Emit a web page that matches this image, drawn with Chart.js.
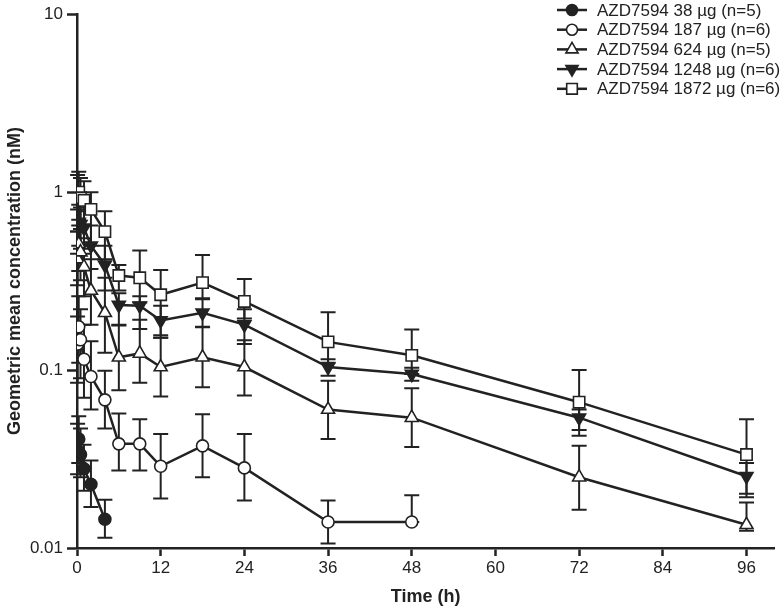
<!DOCTYPE html>
<html>
<head>
<meta charset="utf-8">
<script src="https://cdn.jsdelivr.net/npm/chart.js@4/dist/chart.umd.min.js"></script>
<style>
  html, body { margin: 0; padding: 0; background: #fff; overflow: hidden; }
  #wrap { width: 784px; height: 611px; position: relative; overflow: hidden; }
  canvas { display: block; }
</style>
</head>
<body>
<div id="wrap"><canvas id="grafico"></canvas></div>
<script>
// tempos de coleta (h)
var times = [0.083, 0.25, 0.5, 1, 2, 4, 6, 9, 12, 18, 24, 36, 48, 72, 96];
var xTicks = [0, 12, 24, 36, 48, 60, 72, 84, 96];
var yTicks = [0.01, 0.1, 1, 10];

var labels = [
    "AZD7594 38 µg (n=5)",
    "AZD7594 187 µg (n=6)",
    "AZD7594 624 µg (n=5)",
    "AZD7594 1248 µg (n=6)",
    "AZD7594 1872 µg (n=6)"
];

// 38 µg
var mean38 = [0.0353, 0.041, 0.0335, 0.0279, 0.0228, 0.0145];
var lo38   = [0.026, 0.030, 0.025, 0.021, 0.017, 0.0114];
var hi38   = [0.050, 0.055, 0.047, 0.038, 0.031, 0.0187];

// 187 µg
var mean187 = [0.14, 0.175, 0.148, 0.115, 0.092, 0.068, 0.0385, 0.0385, 0.0288, 0.0375, 0.0282, 0.014, 0.014];
var lo187   = [0.085, 0.11, 0.09, 0.07, 0.06, 0.047, 0.0273, 0.0273, 0.019, 0.025, 0.0185, 0.0106, 0.014];
var hi187   = [0.20, 0.26, 0.22, 0.18, 0.145, 0.099, 0.057, 0.053, 0.0437, 0.0565, 0.0437, 0.0185, 0.0198];

// 624 µg
var mean624 = [0.42, 0.51, 0.46, 0.38, 0.28, 0.21, 0.118, 0.124, 0.104, 0.118, 0.104, 0.060, 0.054, 0.025, 0.0135];
var lo624   = [0.30, 0.36, 0.32, 0.26, 0.18, 0.125, 0.077, 0.085, 0.071, 0.080, 0.072, 0.041, 0.037, 0.0164, 0.0125];
var hi624   = [0.60, 0.70, 0.62, 0.52, 0.42, 0.33, 0.178, 0.192, 0.152, 0.175, 0.147, 0.087, 0.079, 0.0376, 0.018];

// 1248 µg
var mean1248 = [0.62, 0.68, 0.66, 0.63, 0.50, 0.39, 0.232, 0.23, 0.19, 0.21, 0.18, 0.104, 0.095, 0.054, 0.0253];
var lo1248   = [0.45, 0.50, 0.48, 0.45, 0.37, 0.28, 0.18, 0.17, 0.152, 0.174, 0.14, 0.093, 0.087, 0.0428, 0.0193];
var hi1248   = [0.80, 0.85, 0.82, 0.78, 0.65, 0.50, 0.27, 0.26, 0.23, 0.25, 0.22, 0.115, 0.103, 0.060, 0.030];

// 1872 µg
var mean1872 = [0.95, 1.0, 0.93, 0.90, 0.80, 0.60, 0.34, 0.33, 0.265, 0.31, 0.243, 0.144, 0.121, 0.066, 0.0335];
var lo1872   = [0.60, 0.65, 0.62, 0.55, 0.50, 0.42, 0.28, 0.24, 0.157, 0.253, 0.195, 0.11, 0.095, 0.046, 0.0202];
var hi1872   = [1.25, 1.30, 1.20, 1.15, 1.00, 0.78, 0.39, 0.47, 0.365, 0.443, 0.325, 0.211, 0.169, 0.10, 0.053];

var INK = "#222";
var FONTE = "'Liberation Sans', Arial, sans-serif";

function pontos(media, lo, hi) {
    var p = [];
    for (var i = 0; i < media.length; i++) {
        p.push({ x: times[i], y: media[i], lo: lo[i], hi: hi[i] });
    }
    return p;
}

function serie(idx, media, lo, hi, estilo, fundo, raio, rot) {
    return {
        label: labels[idx],
        data: pontos(media, lo, hi),
        showLine: true,
        borderColor: INK,
        borderWidth: 2.5,
        pointStyle: estilo,
        pointRotation: rot || 0,
        pointRadius: raio,
        pointHoverRadius: raio,
        pointBackgroundColor: fundo,
        pointBorderColor: INK,
        pointBorderWidth: 1.6
    };
}

// barras de erro desenhadas por baixo das linhas/marcadores
var barrasErro = {
    id: "barrasErro",
    beforeDatasetsDraw: function (chart) {
        var ctx = chart.ctx;
        var xs = chart.scales.x, ys = chart.scales.y;
        ctx.save();
        ctx.strokeStyle = INK;
        ctx.lineWidth = 2;
        chart.data.datasets.forEach(function (ds) {
            ds.data.forEach(function (p) {
                var px = xs.getPixelForValue(p.x);
                var yl = ys.getPixelForValue(p.lo);
                var yh = ys.getPixelForValue(p.hi);
                ctx.beginPath();
                ctx.moveTo(px, yl); ctx.lineTo(px, yh);
                ctx.moveTo(px - 7.5, yl); ctx.lineTo(px + 7.5, yl);
                ctx.moveTo(px - 7.5, yh); ctx.lineTo(px + 7.5, yh);
                ctx.stroke();
            });
        });
        ctx.restore();
    }
};

// legenda dentro da área do gráfico, canto superior direito
var legendaDentro = {
    id: "legendaDentro",
    afterDraw: function (chart) {
        var ctx = chart.ctx;
        var x0 = 557, y0 = 10, passo = 19.7;
        ctx.save();
        chart.data.datasets.forEach(function (ds, i) {
            var y = y0 + i * passo;
            ctx.strokeStyle = INK;
            ctx.lineWidth = 2.5;
            ctx.beginPath();
            ctx.moveTo(x0, y); ctx.lineTo(x0 + 30, y);
            ctx.stroke();
            ctx.fillStyle = ds.pointBackgroundColor;
            ctx.lineWidth = 1.6;
            Chart.helpers.drawPoint(ctx, {
                pointStyle: ds.pointStyle,
                rotation: ds.pointRotation,
                radius: ds.pointRadius - 0.5,
                borderWidth: 1.6
            }, x0 + 15, y);
            ctx.fillStyle = INK;
            ctx.font = "17px " + FONTE;
            ctx.textBaseline = "middle";
            ctx.textAlign = "left";
            ctx.fillText(ds.label, x0 + 40, y + 1);
        });
        ctx.restore();
    }
};

Chart.defaults.font.family = FONTE;
Chart.defaults.color = INK;

const ctx1 = document.getElementById("grafico");

new Chart(ctx1, {
    type: "scatter",
    data: {
        datasets: [
            serie(0, mean38, lo38, hi38, "circle", INK, 6),
            serie(1, mean187, lo187, hi187, "circle", "#fff", 6),
            serie(2, mean624, lo624, hi624, "triangle", "#fff", 7.5),
            serie(3, mean1248, lo1248, hi1248, "triangle", INK, 7.5, 180),
            serie(4, mean1872, lo1872, hi1872, "rect", "#fff", 8)
        ]
    },
    options: {
        responsive: true,
        maintainAspectRatio: false,
        animation: false,
        layout: { padding: { left: 0, right: 0, top: 0, bottom: 0 } },
        plugins: {
            legend: { display: false },
            tooltip: { enabled: false }
        },
        scales: {
            x: {
                type: "linear",
                min: 0,
                max: 100,
                afterBuildTicks: function (s) {
                    s.ticks = xTicks.map(function (v) { return { value: v }; });
                },
                afterFit: function (s) { s.height = 63; },
                grid: { drawOnChartArea: false, tickLength: 8, tickColor: INK, tickWidth: 2.5 },
                border: { color: INK, width: 2.5 },
                ticks: { font: { size: 17 }, padding: 2, maxRotation: 0 },
                title: {
                    display: true,
                    text: "Time (h)",
                    font: { size: 18, weight: "bold" },
                    padding: { top: 0, bottom: 3 }
                }
            },
            y: {
                type: "logarithmic",
                min: 0.01,
                max: 10,
                afterBuildTicks: function (s) {
                    s.ticks = yTicks.map(function (v) { return { value: v }; });
                },
                afterFit: function (s) { s.width = 77; },
                grid: { drawOnChartArea: false, tickLength: 10, tickColor: INK, tickWidth: 2.5 },
                border: { color: INK, width: 2.5 },
                ticks: {
                    font: { size: 17 },
                    padding: 4,
                    callback: function (v) { return String(v); }
                },
                title: {
                    display: true,
                    text: "Geometric mean concentration (nM)",
                    font: { size: 18, weight: "bold" },
                    padding: { top: 4, bottom: 0 }
                }
            }
        }
    },
    plugins: [barrasErro, legendaDentro]
});
</script>
</body>
</html>
